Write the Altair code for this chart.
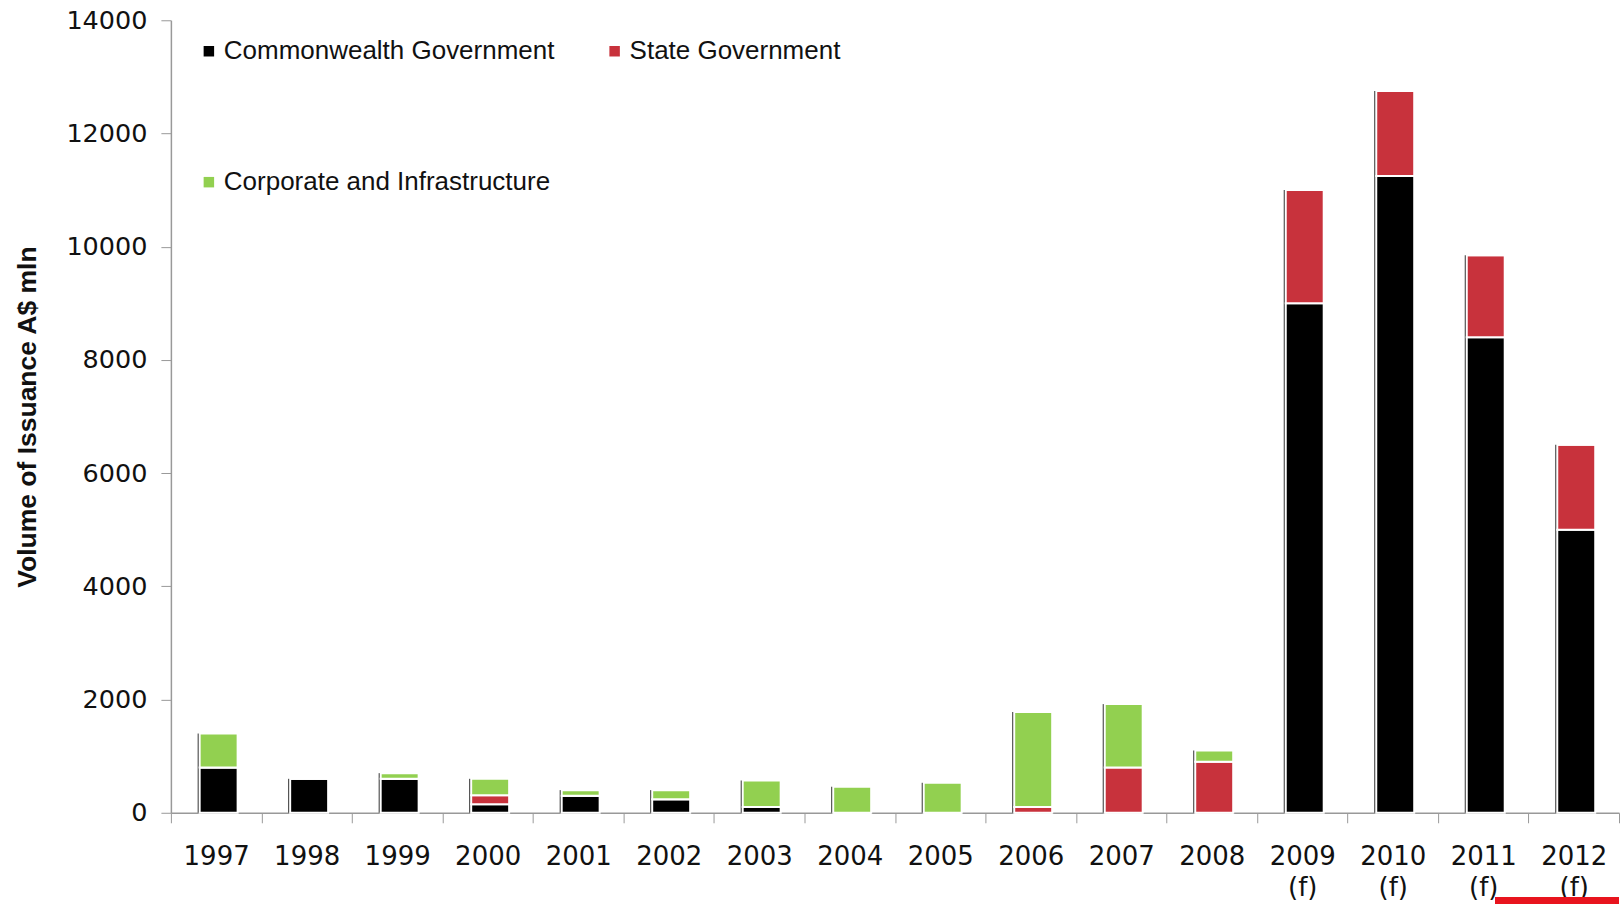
import altair as alt
import pandas as pd

years = ["1997", "1998", "1999", "2000", "2001", "2002", "2003", "2004",
         "2005", "2006", "2007", "2008", "2009|(f)", "2010|(f)", "2011|(f)", "2012|(f)"]
commonwealth = [800, 600, 600, 150, 300, 240, 100, 0, 0, 0, 0, 0, 9000, 11250, 8400, 5000]
state = [0, 0, 0, 160, 0, 0, 0, 0, 0, 100, 800, 900, 2000, 1500, 1450, 1500]
corporate = [600, 0, 100, 290, 100, 160, 470, 460, 530, 1680, 1120, 200, 0, 0, 0, 0]

series = ["Commonwealth  Government", "State Government", "Corporate and Infrastructure"]
colors = ["#000000", "#C8323C", "#92D050"]

rows = []
for i, y in enumerate(years):
    for k, (name, vals) in enumerate(zip(series, [commonwealth, state, corporate])):
        rows.append({"year": y, "series": name, "value": vals[i], "order": k})
df = pd.DataFrame(rows)
totals = pd.DataFrame({"year": years,
                       "total": [a + b + c for a, b, c in zip(commonwealth, state, corporate)]})

x_enc = alt.X("year:N", sort=years, title=None,
              scale=alt.Scale(paddingInner=0, paddingOuter=0),
              axis=alt.Axis(labelAngle=0, labelFont="DejaVu Sans", labelFontSize=26,
                            labelColor="#111111", labelPadding=21,
                            labelExpr="split(datum.label, '|')", labelLineHeight=31,
                            tickBand="extent", tickSize=10, tickColor="#999999",
                            domainColor="#999999", domainWidth=1.5))

shadow = alt.Chart(totals).mark_bar(size=2, xOffset=-17.5, color="#333333").encode(
    x=x_enc,
    y=alt.Y("total:Q"),
)

bars = alt.Chart(df).mark_bar(size=38, xOffset=2.5, stroke="white", strokeWidth=2).encode(
    x=x_enc,
    y=alt.Y("value:Q", stack="zero", title="Volume of Issuance A$ mln",
            scale=alt.Scale(domain=[0, 14000], nice=False),
            axis=alt.Axis(values=list(range(0, 14001, 2000)), grid=False, format="d",
                          labelFont="DejaVu Sans", labelFontSize=25.5, labelColor="#111111",
                          labelPadding=14, tickSize=10, tickColor="#999999",
                          domainColor="#999999", domainWidth=1.5,
                          titleFont="Liberation Sans", titleFontWeight="bold",
                          titleFontSize=26.5, titleColor="#111111", titlePadding=24)),
    color=alt.Color("series:N", sort=series, scale=alt.Scale(domain=series, range=colors),
                    legend=alt.Legend(title=None, orient="none", legendX=25, legendY=18,
                                      direction="horizontal",
                                      columns=2, symbolType="square", symbolSize=110,
                                      symbolStrokeWidth=0, labelFont="Liberation Sans",
                                      labelFontSize=26, labelColor="#111111",
                                      labelOffset=2, rowPadding=105, columnPadding=39,
                                      labelLimit=500)),
    order=alt.Order("order:Q"),
)

strip = alt.Chart(totals).mark_rect(color="#E8141E").encode(
    x=alt.value(1325), x2=alt.value(1449), y=alt.value(878), y2=alt.value(884)
)

chart = alt.layer(shadow, bars, strip).properties(
    width=1449, height=793,
    padding={"left": 14, "top": 8, "right": 0, "bottom": 0},
    background="white",
).configure_view(stroke=None)

chart.save("out.html", embed_options={"renderer": "svg", "actions": False})
